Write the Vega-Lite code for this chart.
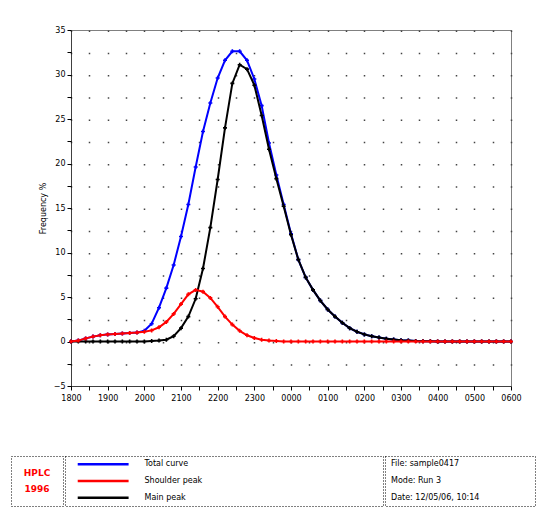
{
  "$schema": "https://vega.github.io/schema/vega-lite/v6.json",
  "padding": {"left": 10, "top": 25, "right": 4, "bottom": 5},
  "background": "white",
  "config": {"font": "DejaVu Sans", "view": {"stroke": null}},
  "spacing": 52,
  "vconcat": [
    {
      "spacing": 0,
      "hconcat": [
        {
          "width": 27, "height": 356,
          "data": {"values": [{}]},
          "mark": {"type": "text"},
          "encoding": {"text": {"value": ""}}
        },
        {
          "width": 440, "height": 356,
          "view": {"stroke": "black", "strokeDash": [1, 1]},
          "data": {"values": [
            {"s":"Total curve","x":0,"v":0},{"s":"Total curve","x":0.2,"v":0.1},{"s":"Total curve","x":0.4,"v":0.35},{"s":"Total curve","x":0.6,"v":0.55},{"s":"Total curve","x":0.8,"v":0.7},{"s":"Total curve","x":1,"v":0.8},{"s":"Total curve","x":1.2,"v":0.85},{"s":"Total curve","x":1.4,"v":0.9},{"s":"Total curve","x":1.6,"v":0.95},{"s":"Total curve","x":1.8,"v":1.0},{"s":"Total curve","x":2,"v":1.2},{"s":"Total curve","x":2.2,"v":2.0},{"s":"Total curve","x":2.4,"v":3.8},{"s":"Total curve","x":2.6,"v":6.0},{"s":"Total curve","x":2.8,"v":8.6},{"s":"Total curve","x":3,"v":11.8},{"s":"Total curve","x":3.2,"v":15.4},{"s":"Total curve","x":3.4,"v":19.6},{"s":"Total curve","x":3.6,"v":23.6},{"s":"Total curve","x":3.8,"v":26.8},{"s":"Total curve","x":4,"v":29.6},{"s":"Total curve","x":4.2,"v":31.6},{"s":"Total curve","x":4.4,"v":32.6},{"s":"Total curve","x":4.6,"v":32.6},{"s":"Total curve","x":4.8,"v":31.6},{"s":"Total curve","x":5,"v":29.5},{"s":"Total curve","x":5.2,"v":26.5},{"s":"Total curve","x":5.4,"v":22.3},{"s":"Total curve","x":5.6,"v":18.7},{"s":"Total curve","x":5.8,"v":15.4},{"s":"Total curve","x":6,"v":12.1},{"s":"Total curve","x":6.2,"v":9.2},{"s":"Total curve","x":6.4,"v":7.2},{"s":"Total curve","x":6.6,"v":5.8},{"s":"Total curve","x":6.8,"v":4.6},{"s":"Total curve","x":7,"v":3.6},{"s":"Total curve","x":7.2,"v":2.8},{"s":"Total curve","x":7.4,"v":2.1},{"s":"Total curve","x":7.6,"v":1.5},{"s":"Total curve","x":7.8,"v":1.1},{"s":"Total curve","x":8,"v":0.8},{"s":"Total curve","x":8.2,"v":0.6},{"s":"Total curve","x":8.4,"v":0.45},{"s":"Total curve","x":8.6,"v":0.32},{"s":"Total curve","x":8.8,"v":0.22},{"s":"Total curve","x":9,"v":0.15},{"s":"Total curve","x":9.2,"v":0.1},{"s":"Total curve","x":9.4,"v":0.06},{"s":"Total curve","x":9.6,"v":0.04},{"s":"Total curve","x":9.8,"v":0.02},{"s":"Total curve","x":10,"v":0.01},{"s":"Total curve","x":10.2,"v":0},{"s":"Total curve","x":10.4,"v":0},{"s":"Total curve","x":10.6,"v":0},{"s":"Total curve","x":10.8,"v":0},{"s":"Total curve","x":11,"v":0},{"s":"Total curve","x":11.2,"v":0},{"s":"Total curve","x":11.4,"v":0},{"s":"Total curve","x":11.6,"v":0},{"s":"Total curve","x":11.8,"v":0},{"s":"Total curve","x":12,"v":0},
            {"s":"Main peak","x":0,"v":0},{"s":"Main peak","x":0.2,"v":0},{"s":"Main peak","x":0.4,"v":0},{"s":"Main peak","x":0.6,"v":0},{"s":"Main peak","x":0.8,"v":0},{"s":"Main peak","x":1,"v":0},{"s":"Main peak","x":1.2,"v":0},{"s":"Main peak","x":1.4,"v":0},{"s":"Main peak","x":1.6,"v":0},{"s":"Main peak","x":1.8,"v":0},{"s":"Main peak","x":2,"v":0},{"s":"Main peak","x":2.2,"v":0.05},{"s":"Main peak","x":2.4,"v":0.1},{"s":"Main peak","x":2.6,"v":0.2},{"s":"Main peak","x":2.8,"v":0.6},{"s":"Main peak","x":3,"v":1.5},{"s":"Main peak","x":3.2,"v":2.8},{"s":"Main peak","x":3.4,"v":4.8},{"s":"Main peak","x":3.6,"v":8.2},{"s":"Main peak","x":3.8,"v":12.8},{"s":"Main peak","x":4,"v":18.2},{"s":"Main peak","x":4.2,"v":24.0},{"s":"Main peak","x":4.4,"v":29.0},{"s":"Main peak","x":4.6,"v":31.1},{"s":"Main peak","x":4.8,"v":30.6},{"s":"Main peak","x":5,"v":28.8},{"s":"Main peak","x":5.2,"v":25.4},{"s":"Main peak","x":5.4,"v":21.6},{"s":"Main peak","x":5.6,"v":18.3},{"s":"Main peak","x":5.8,"v":15.2},{"s":"Main peak","x":6,"v":12.0},{"s":"Main peak","x":6.2,"v":9.2},{"s":"Main peak","x":6.4,"v":7.2},{"s":"Main peak","x":6.6,"v":5.8},{"s":"Main peak","x":6.8,"v":4.6},{"s":"Main peak","x":7,"v":3.6},{"s":"Main peak","x":7.2,"v":2.8},{"s":"Main peak","x":7.4,"v":2.1},{"s":"Main peak","x":7.6,"v":1.5},{"s":"Main peak","x":7.8,"v":1.1},{"s":"Main peak","x":8,"v":0.8},{"s":"Main peak","x":8.2,"v":0.6},{"s":"Main peak","x":8.4,"v":0.45},{"s":"Main peak","x":8.6,"v":0.32},{"s":"Main peak","x":8.8,"v":0.22},{"s":"Main peak","x":9,"v":0.15},{"s":"Main peak","x":9.2,"v":0.1},{"s":"Main peak","x":9.4,"v":0.06},{"s":"Main peak","x":9.6,"v":0.04},{"s":"Main peak","x":9.8,"v":0.02},{"s":"Main peak","x":10,"v":0.01},{"s":"Main peak","x":10.2,"v":0},{"s":"Main peak","x":10.4,"v":0},{"s":"Main peak","x":10.6,"v":0},{"s":"Main peak","x":10.8,"v":0},{"s":"Main peak","x":11,"v":0},{"s":"Main peak","x":11.2,"v":0},{"s":"Main peak","x":11.4,"v":0},{"s":"Main peak","x":11.6,"v":0},{"s":"Main peak","x":11.8,"v":0},{"s":"Main peak","x":12,"v":0},
            {"s":"Shoulder peak","x":0,"v":0},{"s":"Shoulder peak","x":0.2,"v":0.1},{"s":"Shoulder peak","x":0.4,"v":0.35},{"s":"Shoulder peak","x":0.6,"v":0.55},{"s":"Shoulder peak","x":0.8,"v":0.7},{"s":"Shoulder peak","x":1,"v":0.8},{"s":"Shoulder peak","x":1.2,"v":0.85},{"s":"Shoulder peak","x":1.4,"v":0.9},{"s":"Shoulder peak","x":1.6,"v":0.95},{"s":"Shoulder peak","x":1.8,"v":1.0},{"s":"Shoulder peak","x":2,"v":1.1},{"s":"Shoulder peak","x":2.2,"v":1.25},{"s":"Shoulder peak","x":2.4,"v":1.6},{"s":"Shoulder peak","x":2.6,"v":2.2},{"s":"Shoulder peak","x":2.8,"v":3.1},{"s":"Shoulder peak","x":3,"v":4.2},{"s":"Shoulder peak","x":3.2,"v":5.3},{"s":"Shoulder peak","x":3.4,"v":5.8},{"s":"Shoulder peak","x":3.6,"v":5.6},{"s":"Shoulder peak","x":3.8,"v":4.9},{"s":"Shoulder peak","x":4,"v":3.9},{"s":"Shoulder peak","x":4.2,"v":2.8},{"s":"Shoulder peak","x":4.4,"v":1.9},{"s":"Shoulder peak","x":4.6,"v":1.2},{"s":"Shoulder peak","x":4.8,"v":0.7},{"s":"Shoulder peak","x":5,"v":0.4},{"s":"Shoulder peak","x":5.2,"v":0.2},{"s":"Shoulder peak","x":5.4,"v":0.1},{"s":"Shoulder peak","x":5.6,"v":0.05},{"s":"Shoulder peak","x":5.8,"v":0},{"s":"Shoulder peak","x":6,"v":0},{"s":"Shoulder peak","x":6.2,"v":0},{"s":"Shoulder peak","x":6.4,"v":0},{"s":"Shoulder peak","x":6.6,"v":0},{"s":"Shoulder peak","x":6.8,"v":0},{"s":"Shoulder peak","x":7,"v":0},{"s":"Shoulder peak","x":7.2,"v":0},{"s":"Shoulder peak","x":7.4,"v":0},{"s":"Shoulder peak","x":7.6,"v":0},{"s":"Shoulder peak","x":7.8,"v":0},{"s":"Shoulder peak","x":8,"v":0},{"s":"Shoulder peak","x":8.2,"v":0},{"s":"Shoulder peak","x":8.4,"v":0},{"s":"Shoulder peak","x":8.6,"v":0},{"s":"Shoulder peak","x":8.8,"v":0},{"s":"Shoulder peak","x":9,"v":0},{"s":"Shoulder peak","x":9.2,"v":0},{"s":"Shoulder peak","x":9.4,"v":0},{"s":"Shoulder peak","x":9.6,"v":0},{"s":"Shoulder peak","x":9.8,"v":0},{"s":"Shoulder peak","x":10,"v":0},{"s":"Shoulder peak","x":10.2,"v":0},{"s":"Shoulder peak","x":10.4,"v":0},{"s":"Shoulder peak","x":10.6,"v":0},{"s":"Shoulder peak","x":10.8,"v":0},{"s":"Shoulder peak","x":11,"v":0},{"s":"Shoulder peak","x":11.2,"v":0},{"s":"Shoulder peak","x":11.4,"v":0},{"s":"Shoulder peak","x":11.6,"v":0},{"s":"Shoulder peak","x":11.8,"v":0},{"s":"Shoulder peak","x":12,"v":0}
          ]},
          "encoding": {
            "x": {"field": "x", "type": "quantitative",
              "scale": {"domain": [0, 12], "nice": false, "zero": false},
              "axis": {
                "title": null,
                "values": [0,0.5,1,1.5,2,2.5,3,3.5,4,4.5,5,5.5,6,6.5,7,7.5,8,8.5,9,9.5,10,10.5,11,11.5,12],
                "labelExpr": "datum.value % 1 === 0 ? ['1800','1900','2000','2100','2200','2300','0000','0100','0200','0300','0400','0500','0600'][datum.value] : ''",
                "labelOverlap": false, "labelFlush": false,
                "labelFontSize": 8, "labelColor": "black", "labelPadding": 4,
                "tickSize": 4, "tickColor": "black",
                "domainColor": "black", "domainDash": [1, 1],
                "grid": true, "gridColor": "#444", "gridWidth": 1.5, "gridDash": [1.5, 20.75]
              }
            },
            "y": {"field": "v", "type": "quantitative",
              "scale": {"domain": [-5, 35], "nice": false, "zero": false},
              "axis": {
                "title": "Frequency %", "titleFontSize": 8, "titleFontWeight": "normal", "titleColor": "black", "titlePadding": 6,
                "values": [-5,-2.5,0,2.5,5,7.5,10,12.5,15,17.5,20,22.5,25,27.5,30,32.5,35],
                "labelExpr": "datum.value % 5 === 0 ? datum.label : ''",
                "labelOverlap": false, "labelFontSize": 8, "labelColor": "black",
                "tickSize": 4, "tickColor": "black",
                "domainColor": "black", "domainDash": [1, 1],
                "grid": false
              }
            },
            "color": {"field": "s", "type": "nominal",
              "scale": {"domain": ["Total curve", "Shoulder peak", "Main peak"], "range": ["#0000ff", "#ff0000", "#000000"]},
              "legend": null
            }
          },
          "layer": [
            {"transform": [{"filter": "datum.s === 'Total curve'"}],
             "mark": {"type": "line", "strokeWidth": 2, "point": {"shape": "cross", "size": 16, "filled": true}}},
            {"transform": [{"filter": "datum.s === 'Main peak'"}],
             "mark": {"type": "line", "strokeWidth": 2, "point": {"shape": "cross", "size": 16, "filled": true}}},
            {"transform": [{"filter": "datum.s === 'Shoulder peak'"}],
             "mark": {"type": "line", "strokeWidth": 2, "point": {"shape": "cross", "size": 16, "filled": true}}}
          ]
        }
      ]
    },
    {
      "spacing": 0,
      "hconcat": [
        {
          "width": 52, "height": 50,
          "view": {"stroke": "black", "strokeDash": [1, 2]},
          "data": {"values": [{"t": "HPLC", "r": 1}, {"t": "1996", "r": 2}]},
          "mark": {"type": "text", "color": "#ff0000", "fontSize": 9, "fontWeight": "bold"},
          "encoding": {
            "y": {"field": "r", "type": "ordinal", "axis": null, "scale": {"padding": 1}},
            "text": {"field": "t"}
          }
        },
        {
          "width": 318, "height": 50,
          "view": {"stroke": "black", "strokeDash": [1, 2]},
          "data": {"values": [{"s": "Total curve", "r": 1}, {"s": "Shoulder peak", "r": 2}, {"s": "Main peak", "r": 3}]},
          "encoding": {
            "y": {"field": "r", "type": "ordinal", "axis": null}
          },
          "layer": [
            {
              "mark": {"type": "rule", "strokeWidth": 2.5},
              "encoding": {
                "x": {"datum": 0.04, "type": "quantitative", "scale": {"domain": [0, 1]}, "axis": null},
                "x2": {"datum": 0.2},
                "color": {"field": "s", "type": "nominal",
                  "scale": {"domain": ["Total curve", "Shoulder peak", "Main peak"], "range": ["#0000ff", "#ff0000", "#000000"]},
                  "legend": null}
              }
            },
            {
              "mark": {"type": "text", "align": "left", "fontSize": 8, "color": "black"},
              "encoding": {
                "x": {"datum": 0.25, "type": "quantitative", "scale": {"domain": [0, 1]}, "axis": null},
                "text": {"field": "s"}
              }
            }
          ]
        },
        {
          "width": 150, "height": 50,
          "view": {"stroke": "black", "strokeDash": [1, 2]},
          "data": {"values": [{"t": "File: sample0417", "r": 1}, {"t": "Mode: Run 3", "r": 2}, {"t": "Date: 12/05/06, 10:14", "r": 3}]},
          "mark": {"type": "text", "align": "left", "fontSize": 8, "color": "black"},
          "encoding": {
            "x": {"datum": 0.04, "type": "quantitative", "scale": {"domain": [0, 1]}, "axis": null},
            "y": {"field": "r", "type": "ordinal", "axis": null},
            "text": {"field": "t"}
          }
        }
      ]
    }
  ]
}
